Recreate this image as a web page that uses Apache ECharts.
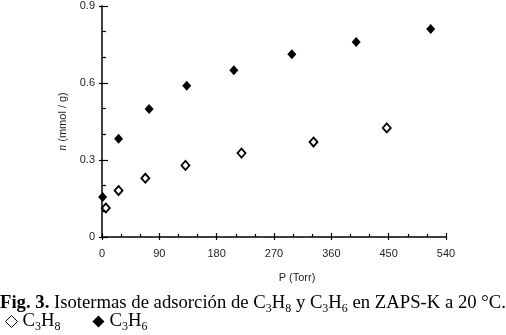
<!DOCTYPE html>
<html>
<head>
<meta charset="utf-8">
<script src="https://cdn.jsdelivr.net/npm/echarts@6/dist/echarts.min.js"></script>
<style>
  html, body { margin: 0; padding: 0; background: #fff; }
  #chart { width: 506px; height: 335px; }
</style>
</head>
<body>
<div id="chart"></div>
<script>
// isoterma C3H8 (rombos abiertos) y C3H6 (rombos llenos), P en Torr, n en mmol/g
var propano = [[6, 0.113], [26, 0.181], [68, 0.229], [131, 0.279], [219, 0.327], [332, 0.370], [447, 0.425]];
var propeno = [[1, 0.156], [26, 0.383], [74, 0.499], [133, 0.589], [207, 0.650], [298, 0.712], [399, 0.760], [516, 0.810]];
var xTicks = { min: 0, max: 540, interval: 90 };
var yTicks = { min: 0, max: 0.9, interval: 0.3 };
var seriesNames = ['C3H8', 'C3H6'];

var serif = '"Liberation Serif", "Times New Roman", serif';
var sans = '"Liberation Sans", Arial, sans-serif';

var subRich = {
  n: { fontFamily: serif, fontSize: 18.7, color: '#000' },
  b: { fontFamily: serif, fontSize: 18.7, fontWeight: 'bold', color: '#000' },
  s: { fontFamily: serif, fontSize: 12, color: '#000', padding: [10, 0, 0, 0] }
};

function chem(name) {
  // C3H8 -> C{s|3}H{s|8}
  return name.replace(/(\d)/g, '}{s|$1}{n|').replace(/^/, '{n|') + '}';
}

var chart = echarts.init(document.getElementById('chart'));

var axisBase = {
  type: 'value',
  axisLine: { show: true, lineStyle: { color: '#000', width: 1.5 } },
  splitLine: { show: false }
};

var option = {
  animation: false,
  grid: { left: 102, right: 60, top: 6, bottom: 98, containLabel: false },
  legend: {
    left: 0,
    top: 307,
    itemWidth: 12,
    itemHeight: 12,
    itemGap: 32,
    data: [
      { name: seriesNames[0], icon: 'diamond', itemStyle: { color: '#fff', borderColor: '#000', borderWidth: 1 } },
      { name: seriesNames[1], icon: 'diamond', itemStyle: { color: '#000' } }
    ],
    formatter: function (name) { return chem(name); },
    textStyle: { rich: subRich }
  },
  xAxis: [
    Object.assign({}, axisBase, {
      min: xTicks.min, max: xTicks.max, interval: xTicks.interval,
      position: 'bottom',
      axisTick: { show: true, inside: true, length: 4, lineStyle: { color: '#000', width: 1.2 } },
      minorTick: { show: true, splitNumber: 3, length: 3, lineStyle: { color: '#000', width: 1.2 } },
      axisLabel: { margin: 11, fontFamily: sans, fontSize: 11, color: '#222' },
      name: 'P (Torr)',
      nameLocation: 'middle',
      nameGap: 35,
      nameTextStyle: { fontFamily: sans, fontSize: 11, color: '#222', padding: [0, 0, 0, 46] }
    }),
    Object.assign({}, axisBase, {
      min: xTicks.min, max: xTicks.max, interval: xTicks.interval,
      position: 'bottom',
      axisLine: { show: false },
      axisTick: { show: true, inside: false, length: 3, lineStyle: { color: '#000', width: 1.2 } },
      axisLabel: { show: false }
    })
  ],
  yAxis: [
    Object.assign({}, axisBase, {
      min: yTicks.min, max: yTicks.max, interval: yTicks.interval,
      position: 'left',
      axisTick: { show: true, inside: true, length: 6, lineStyle: { color: '#000', width: 1.2 } },
      minorTick: { show: true, splitNumber: 3, length: 4, lineStyle: { color: '#000', width: 1.2 } },
      axisLabel: { margin: 7, fontFamily: sans, fontSize: 11, color: '#222' },
      name: '{i|n} (mmol / g)',
      nameLocation: 'middle',
      nameGap: 28,
      nameTextStyle: {
        fontFamily: sans, fontSize: 11, color: '#222',
        rich: { i: { fontFamily: serif, fontStyle: 'italic', fontSize: 12, color: '#222' } }
      }
    }),
    Object.assign({}, axisBase, {
      min: yTicks.min, max: yTicks.max, interval: yTicks.interval,
      position: 'left',
      axisLine: { show: false },
      axisTick: { show: true, inside: false, length: 3, lineStyle: { color: '#000', width: 1.2 } },
      axisLabel: { show: false }
    })
  ],
  series: [
    {
      name: seriesNames[0],
      type: 'scatter',
      symbol: 'diamond',
      symbolSize: [8, 9],
      itemStyle: { color: '#fff', borderColor: '#000', borderWidth: 1.8, opacity: 1 },
      data: propano
    },
    {
      name: seriesNames[1],
      type: 'scatter',
      symbol: 'diamond',
      symbolSize: [9, 10],
      itemStyle: { color: '#000', opacity: 1 },
      data: propeno
    }
  ],
  graphic: [
    {
      type: 'text',
      left: 0,
      top: 294,
      style: {
        text: '{b|Fig. 3.}{n| Isotermas de adsorción de C}{s|3}{n|H}{s|8}{n| y C}{s|3}{n|H}{s|6}{n| en ZAPS-K a 20 °C.}',
        rich: subRich
      }
    }
  ]
};

chart.setOption(option);
</script>
</body>
</html>
